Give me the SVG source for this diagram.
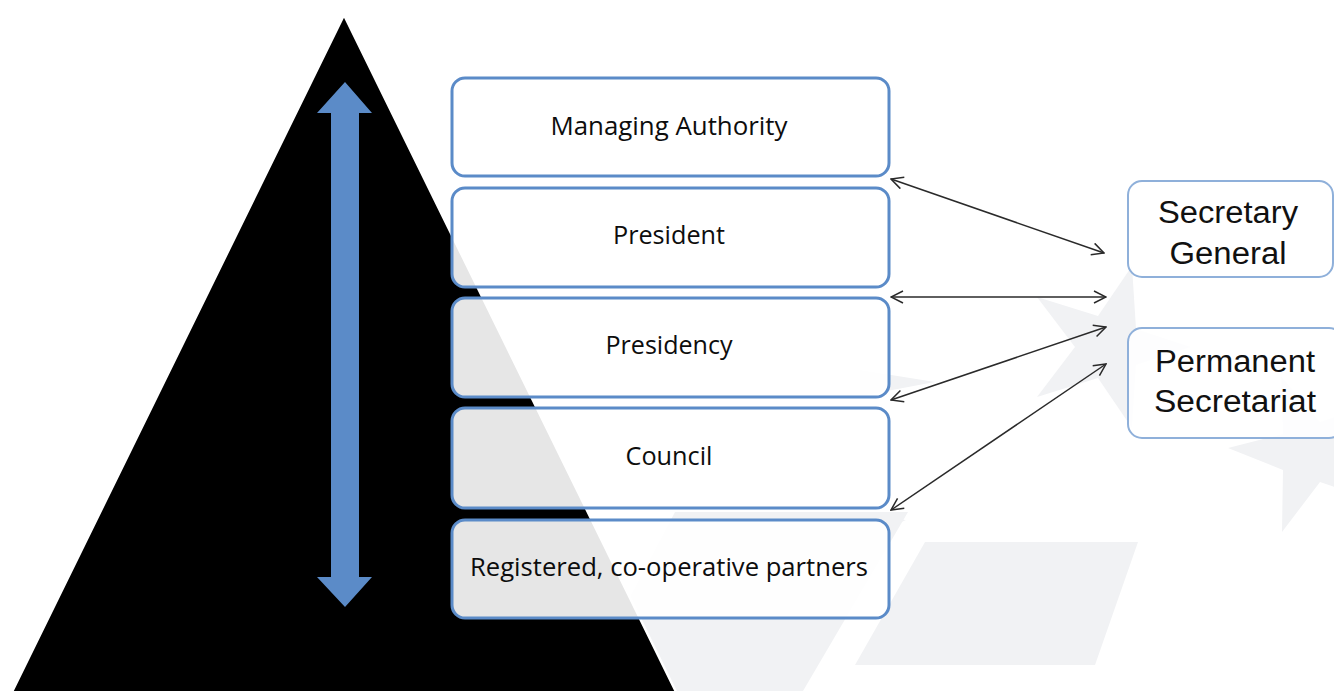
<svg xmlns="http://www.w3.org/2000/svg" width="1334" height="691" viewBox="0 0 1334 691">
<defs>
<style>
.wm{fill:#f1f2f4}
.lbox{fill:#ffffff;fill-opacity:0.9;stroke:#5b8bc8;stroke-width:3}
.rbox{fill:#ffffff;fill-opacity:0.85;stroke:#8fb0da;stroke-width:2}
.lt{font-family:"Open Sans","Liberation Sans",sans-serif;font-size:26px;fill:#0d0d0d;text-anchor:middle}
.rt{font-family:"Liberation Sans",Arial,sans-serif;font-size:31px;fill:#111111;text-anchor:middle}
.conn{stroke:#2a2a2a;stroke-width:1.5;fill:none;marker-start:url(#ah);marker-end:url(#ah)}
</style>
<marker id="ah" viewBox="0 0 14 14" refX="13" refY="7" markerWidth="14" markerHeight="14" markerUnits="userSpaceOnUse" orient="auto-start-reverse">
<path d="M1,1 L13,7 L1,13" fill="none" stroke="#2a2a2a" stroke-width="1.5"/>
</marker>
</defs>
<rect width="1334" height="691" fill="#ffffff"/>
<g id="watermark">
<polygon class="wm" points="675,512 908,512 803,691 580,691"/>
<polygon class="wm" points="925,542 1138,542 1095,665 855,665"/>
<polygon class="wm" points="1191,347 1136,365 1132,428 1098,378 1037,397 1075,347 1037,297 1098,316 1132,266 1136,329"/>
<polygon class="wm" points="1228,448 1283,434 1281,376 1320,422 1374,404 1343,452 1374,500 1320,482 1282,532 1283,470"/>
<polygon class="wm" points="860,370 935,382 860,396"/>
<polygon class="wm" points="860,516 906,520 860,540"/>
</g>
<g id="pyramid">
<polygon points="344,15 680,700 8,700" fill="#000000" stroke="#ffffff" stroke-width="2.5"/>
</g>
<g id="updown-arrow">
<polygon points="345,82 372,113 359,113 359,577 372,577 345,607 317,577 331,577 331,113 317,113" fill="#5b8bc8"/>
</g>
<g id="node-managing-authority">
<rect class="lbox" x="452" y="78" width="437" height="98" rx="13"/>
<text class="lt" x="669" y="135" textLength="237" lengthAdjust="spacingAndGlyphs">Managing Authority</text>
</g>
<g id="node-president">
<rect class="lbox" x="452" y="188" width="437" height="99" rx="13"/>
<text class="lt" x="669" y="244" textLength="112" lengthAdjust="spacingAndGlyphs">President</text>
</g>
<g id="node-presidency">
<rect class="lbox" x="452" y="298" width="437" height="99" rx="13"/>
<text class="lt" x="669" y="354" textLength="127" lengthAdjust="spacingAndGlyphs">Presidency</text>
</g>
<g id="node-council">
<rect class="lbox" x="452" y="408" width="437" height="100" rx="13"/>
<text class="lt" x="669" y="465" textLength="87" lengthAdjust="spacingAndGlyphs">Council</text>
</g>
<g id="node-partners">
<rect class="lbox" x="452" y="520" width="437" height="98" rx="13"/>
<text class="lt" x="669" y="576" textLength="398" lengthAdjust="spacingAndGlyphs">Registered, co-operative partners</text>
</g>
<g id="node-secretary-general">
<rect class="rbox" x="1128" y="181" width="205" height="96" rx="14"/>
<text class="rt" x="1228" y="223" textLength="140" lengthAdjust="spacingAndGlyphs">Secretary</text>
<text class="rt" x="1228" y="264" textLength="117" lengthAdjust="spacingAndGlyphs">General</text>
</g>
<g id="node-permanent-secretariat">
<rect class="rbox" x="1128" y="328" width="215" height="110" rx="14"/>
<text class="rt" x="1235" y="372" textLength="160" lengthAdjust="spacingAndGlyphs">Permanent</text>
<text class="rt" x="1235" y="412" textLength="162" lengthAdjust="spacingAndGlyphs">Secretariat</text>
</g>
<g id="connectors">
<line class="conn" x1="891" y1="179" x2="1104" y2="253"/>
<line class="conn" x1="891" y1="297" x2="1106" y2="297"/>
<line class="conn" x1="891" y1="400" x2="1106" y2="327"/>
<line class="conn" x1="891" y1="510" x2="1106" y2="364"/>
</g>
</svg>
